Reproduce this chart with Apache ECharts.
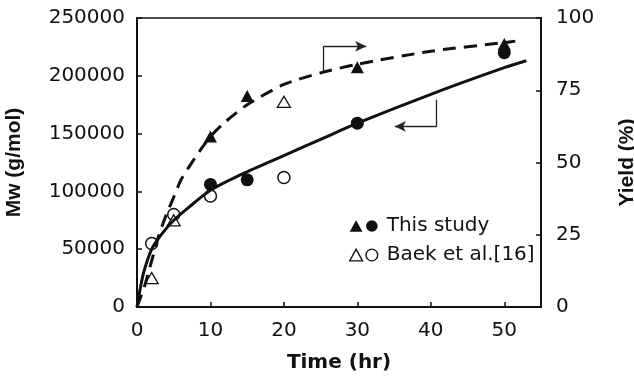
<!DOCTYPE html>
<html>
<head>
<meta charset="utf-8">
<script src="https://cdn.jsdelivr.net/npm/echarts@6/dist/echarts.min.js"></script>
<style>
  html, body { margin: 0; padding: 0; background: #fff; }
  #chart { width: 634px; height: 383px; }
</style>
</head>
<body>
<div id="chart"></div>
<script>
const thisTime = [10, 15, 30, 50];
const thisMw = [106000, 110000, 159000, 220000];
const thisYieldTime = [10, 15, 30, 50];
const thisYield = [59, 73, 83, 91];

const baekMwTime = [2, 5, 10, 20];
const baekMw = [55000, 80000, 96000, 112000];
const baekYieldTime = [2, 5, 20];
const baekYield = [10, 30, 71];

// fitted curves
const mwFitTime = [0, 0.5, 1, 2, 3, 5, 7, 10, 15, 20, 25, 30, 40, 50, 53];
const mwFit = [0, 18000, 32000, 50000, 60000, 75000, 86000, 101000, 117000, 131000, 145000, 159000, 184000, 207000, 213000];
const yieldFitTime = [0, 1, 2, 3, 4, 5, 6, 8, 10, 12, 15, 20, 25, 30, 40, 50, 51.5];
const yieldFit = [0, 7, 16, 25, 32, 38, 44, 52, 59, 64, 70, 77, 81, 84, 88.5, 91.5, 92];

// arrows (data space): [x, y] points
const yieldArrow = [[25.4, 81.5], [25.4, 90.2], [31.2, 90.2]];
const mwArrow = [[40.8, 179300], [40.8, 156200], [35.1, 156200]];

const zip = (xs, ys) => xs.map((x, i) => [x, ys[i]]);

const chart = echarts.init(document.getElementById('chart'));

const tickFont = { fontFamily: 'DejaVu Sans', fontSize: 20, color: '#111' };
const axisLine = { show: true, lineStyle: { color: '#111', width: 2 } };
const tick = { show: true, inside: true, length: 5, lineStyle: { color: '#111', width: 1.5 } };

const arrowLine = (pts) => [
  [{ coord: pts[0], symbol: 'none' }, { coord: pts[1], symbol: 'none' }],
  [{ coord: pts[1], symbol: 'none' }, { coord: pts[2], symbol: 'arrow', symbolSize: [8, 11] }]
];

// triangle + circle side by side
const legendIcon = 'path://M0,20 L11,0 L22,20 Z M28,10 A10,10 0 1,0 48,10 A10,10 0 1,0 28,10 Z';

chart.setOption({
  animation: false,
  backgroundColor: '#fff',
  grid: {
    left: 137, right: 93, top: 18, bottom: 76,
    show: true, borderColor: '#111', borderWidth: 1.5,
    outerBoundsMode: 'none'
  },
  legend: {
    left: 344, top: 211, orient: 'vertical', itemGap: 9,
    itemWidth: 28, itemHeight: 12,
    textStyle: { fontFamily: 'DejaVu Sans', fontSize: 20, color: '#111', padding: [0, 0, 0, 4] },
    data: [
      { name: 'This study', icon: legendIcon, itemStyle: { color: '#111', borderWidth: 0 } },
      { name: 'Baek et al.[16]', icon: legendIcon, itemStyle: { color: '#fff', borderColor: '#111', borderWidth: 1.4 } }
    ]
  },
  xAxis: {
    type: 'value', min: 0, max: 55, interval: 10,
    name: 'Time (hr)', nameLocation: 'middle', nameGap: 46,
    nameTextStyle: { fontFamily: 'DejaVu Sans', fontWeight: 'bold', fontSize: 20, color: '#111' },
    axisLine: axisLine, axisTick: tick,
    axisLabel: Object.assign({ margin: 14, showMaxLabel: false }, tickFont),
    splitLine: { show: false }
  },
  yAxis: [
    {
      type: 'value', min: 0, max: 250000, interval: 50000, position: 'left',
      name: 'Mw (g/mol)', nameLocation: 'middle', nameGap: 112, nameRotate: 90,
      nameTextStyle: { fontFamily: 'Liberation Sans', fontWeight: 'bold', fontSize: 21, color: '#111' },
      axisLine: axisLine, axisTick: tick,
      axisLabel: Object.assign({ margin: 12, formatter: (v) => String(v) }, tickFont),
      splitLine: { show: false }
    },
    {
      type: 'value', min: 0, max: 100, interval: 25, position: 'right',
      name: 'Yield (%)', nameLocation: 'middle', nameGap: 76, nameRotate: 90,
      nameTextStyle: { fontFamily: 'Liberation Sans', fontWeight: 'bold', fontSize: 21, color: '#111' },
      axisLine: axisLine, axisTick: tick,
      axisLabel: Object.assign({ margin: 15 }, tickFont),
      splitLine: { show: false }
    }
  ],
  series: [
    {
      name: 'Mw fit', type: 'line', yAxisIndex: 0, smooth: 0.25,
      showSymbol: false, data: zip(mwFitTime, mwFit),
      lineStyle: { color: '#111', width: 3 },
      markLine: {
        silent: true, label: { show: false },
        lineStyle: { color: '#222', width: 1.3, type: 'solid' },
        data: arrowLine(mwArrow)
      }
    },
    {
      name: 'Yield fit', type: 'line', yAxisIndex: 1, smooth: 0.25,
      showSymbol: false, data: zip(yieldFitTime, yieldFit),
      lineStyle: { color: '#111', width: 3, type: [13, 8] },
      markLine: {
        silent: true, label: { show: false },
        lineStyle: { color: '#222', width: 1.3, type: 'solid' },
        data: arrowLine(yieldArrow)
      }
    },
    {
      name: 'This study', type: 'scatter', yAxisIndex: 0, symbol: 'circle', symbolSize: 13,
      itemStyle: { color: '#111', opacity: 1 }, data: zip(thisTime, thisMw)
    },
    {
      name: 'This study', type: 'scatter', yAxisIndex: 1, symbol: 'triangle', symbolSize: [13, 12],
      itemStyle: { color: '#111', opacity: 1 }, data: zip(thisYieldTime, thisYield)
    },
    {
      name: 'Baek et al.[16]', type: 'scatter', yAxisIndex: 0, symbol: 'circle', symbolSize: 12,
      itemStyle: { color: '#fff', borderColor: '#111', borderWidth: 1.5, opacity: 1 },
      data: zip(baekMwTime, baekMw)
    },
    {
      name: 'Baek et al.[16]', type: 'scatter', yAxisIndex: 1, symbol: 'triangle', symbolSize: [13, 11],
      itemStyle: { color: '#fff', borderColor: '#111', borderWidth: 1.3, opacity: 1 },
      data: zip(baekYieldTime, baekYield)
    }
  ]
});
</script>
</body>
</html>
